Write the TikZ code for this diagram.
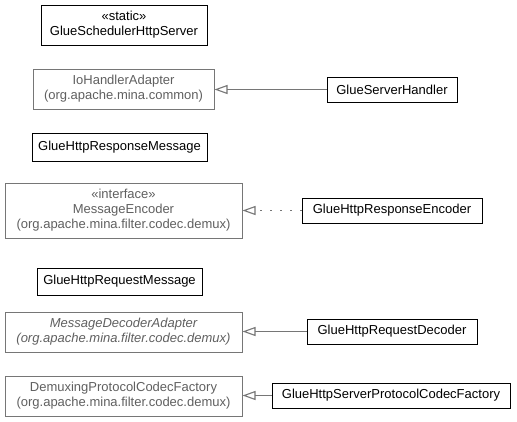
\documentclass[tikz,border=0pt]{standalone}
\usepackage{fontspec}
\setmainfont{Liberation Sans}
\usetikzlibrary{arrows.meta}
\definecolor{umlgray}{RGB}{118,118,118}
\definecolor{umltext}{RGB}{96,96,96}

\begin{document}
\begin{tikzpicture}[x=1pt,y=-1pt,
	cls/.style={draw=black, line width=1pt, fill=white, align=center, inner sep=0pt, font=\fontsize{13}{15}\selectfont},
	ext/.style={cls, draw=umlgray, text=umltext},
	absext/.style={ext, font=\fontsize{13}{15}\selectfont\itshape},
	gen/.style={draw=umlgray, line width=1.1pt, -{Triangle[open, length=13pt, width=9pt]}},
	real/.style={gen, dash pattern=on 2pt off 8pt}]
	\useasboundingbox (0,0) rectangle (517,421);

	% left column
	\node[cls, minimum width=166pt, minimum height=40pt] (scheduler) at (124,25) {«static»\\GlueSchedulerHttpServer};
	\node[ext, minimum width=181pt, minimum height=40pt] (adapter) at (123.5,89) {IoHandlerAdapter\\(org.apache.mina.common)};
	\node[cls, minimum width=175pt, minimum height=28pt] (respmsg) at (119.5,147) {GlueHttpResponseMessage};
	\node[ext, minimum width=237pt, minimum height=55pt] (encoder) at (123.5,210.5) {«interface»\\MessageEncoder\\(org.apache.mina.filter.codec.demux)};
	\node[cls, minimum width=165pt, minimum height=27pt] (reqmsg) at (119.5,281.5) {GlueHttpRequestMessage};
	\node[absext, minimum width=237pt, minimum height=40pt] (decoder) at (123.5,332) {MessageDecoderAdapter\\(org.apache.mina.filter.codec.demux)};
	\node[ext, minimum width=237pt, minimum height=40pt] (factory) at (123.5,396) {DemuxingProtocolCodecFactory\\(org.apache.mina.filter.codec.demux)};

	% right column
	\node[cls, minimum width=130pt, minimum height=25pt] (handler) at (392,89.5) {GlueServerHandler};
	\node[cls, minimum width=180pt, minimum height=25pt] (respenc) at (392,210.5) {GlueHttpResponseEncoder};
	\node[cls, minimum width=170pt, minimum height=25pt] (reqdec) at (392,331.5) {GlueHttpRequestDecoder};
	\node[cls, minimum width=238pt, minimum height=25pt] (srvfactory) at (391,395.5) {GlueHttpServerProtocolCodecFactory};

	% relations
	\draw[gen] (handler.west) -- (handler.west -| adapter.east);
	\draw[real] (respenc.west) -- (respenc.west -| encoder.east);
	\draw[gen] (reqdec.west) -- (reqdec.west -| decoder.east);
	\draw[gen] (srvfactory.west) -- (srvfactory.west -| factory.east);
\end{tikzpicture}
\end{document}
